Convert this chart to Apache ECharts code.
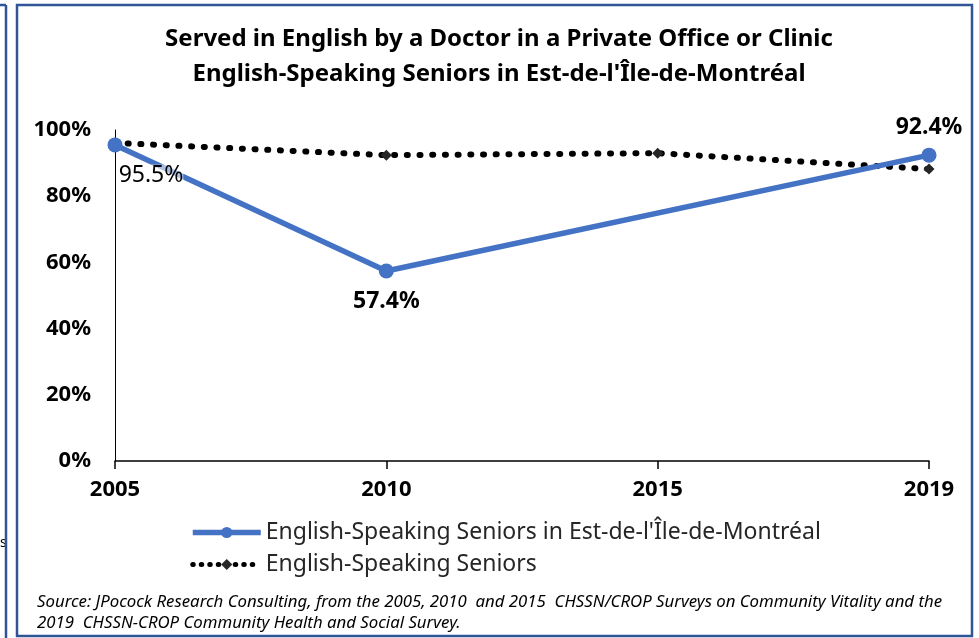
<!DOCTYPE html>
<html>
<head>
<meta charset="utf-8">
<script src="https://cdn.jsdelivr.net/npm/echarts@6/dist/echarts.min.js"></script>
<style>
html,body{margin:0;padding:0;background:#fff;}
#c{width:979px;height:638px;}
</style>
</head>
<body>
<div id="c"></div>
<script>
const years = ['2005', '2010', '2015', '2019'];
const estMontreal = [95.5, 57.4, null, 92.4];
const allSeniors = [96.1, 92.4, 93.0, 88.2];
const yTicks = [0, 20, 40, 60, 80, 100];
const titleLines = ['Served in English by a Doctor in a Private Office or Clinic', "English-Speaking Seniors in Est-de-l'Île-de-Montréal"];
const seriesNames = ["English-Speaking Seniors in Est-de-l'Île-de-Montréal", 'English-Speaking Seniors'];
const sourceLines = ['Source: JPocock Research Consulting, from the 2005, 2010  and 2015  CHSSN/CROP Surveys on Community Vitality and the', '2019  CHSSN-CROP Community Health and Social Survey.'];

const FONT = '"Noto Sans", "Open Sans", sans-serif';
const chart = echarts.init(document.getElementById('c'));

const labelCfg = [
  {position: 'bottom', offset: [36, 7], fontWeight: 'normal', backgroundColor: 'rgba(255,255,255,0.55)'},
  {position: 'bottom', offset: [0, 6], fontWeight: 'bold'},
  null,
  {position: 'top', offset: [0, -4], fontWeight: 'bold'}
];

chart.setOption({
  backgroundColor: '#fff',
  animation: false,
  title: {
    text: titleLines.join('\n'),
    left: 494, textAlign: 'center', top: 17,
    textStyle: {fontFamily: FONT, fontSize: 24, fontWeight: 'bold', color: '#000', lineHeight: 35}
  },
  grid: {left: 115, right: 50, top: 130, bottom: 177, containLabel: false},
  xAxis: {
    type: 'category', data: years, boundaryGap: false,
    axisLine: {lineStyle: {color: '#000', width: 1.5}},
    axisTick: {show: true, alignWithLabel: true, length: 8, lineStyle: {color: '#000', width: 1.5}},
    axisLabel: {fontFamily: FONT, fontSize: 22, fontWeight: 'bold', color: '#000', margin: 18},
    splitLine: {show: false}
  },
  yAxis: {
    type: 'value', min: 0, max: 100, interval: 20,
    axisLine: {show: true, lineStyle: {color: '#000', width: 1}},
    axisTick: {show: false},
    axisLabel: {fontFamily: FONT, fontSize: 22, fontWeight: 'bold', color: '#000', margin: 24,
      formatter: v => yTicks.includes(v) ? v + '%' : ''},
    splitLine: {show: false}
  },
  legend: {
    orient: 'vertical', left: 185, top: 516, itemGap: 9,
    itemWidth: 68, itemHeight: 14,
    textStyle: {fontFamily: FONT, fontSize: 23, color: '#262626'},
    data: [
      {name: seriesNames[0], lineStyle: {width: 5.5, color: '#4472C4'}},
      {name: seriesNames[1], lineStyle: {width: 5, color: '#000', type: [0.5, 8], cap: 'round'}}
    ]
  },
  series: [
    {
      name: seriesNames[1], type: 'line', data: allSeniors, z: 2,
      symbol: 'diamond', symbolSize: 11,
      itemStyle: {color: '#262626'},
      lineStyle: {color: '#000', width: 6, type: [1, 11.7], cap: 'round'}
    },
    {
      name: seriesNames[0], type: 'line', connectNulls: true, z: 3,
      data: estMontreal.map((v, i) => {
        if (v === null) return null;
        const c = labelCfg[i];
        return {value: v, label: Object.assign({show: true, formatter: p => p.value.toFixed(1) + '%',
          fontFamily: FONT, fontSize: 23, color: '#000', distance: 5}, c)};
      }),
      symbol: 'circle', symbolSize: 15,
      itemStyle: {color: '#4472C4'},
      lineStyle: {color: '#4472C4', width: 5.5}
    }
  ],
  graphic: [
    {type: 'rect', shape: {x: 17, y: 5, width: 955, height: 631}, style: {fill: 'none', stroke: '#2F5597', lineWidth: 2.5}, z: 100},
    {type: 'line', shape: {x1: 6, y1: 5, x2: 6, y2: 638}, style: {stroke: '#2F5597', lineWidth: 2.5}, z: 100},
    {type: 'line', shape: {x1: 0, y1: 5, x2: 6, y2: 5}, style: {stroke: '#2F5597', lineWidth: 2.5}, z: 100},
    {type: 'text', left: 0, top: 536, style: {text: 's', fontFamily: FONT, fontSize: 14, fill: '#000'}},
    {type: 'text', left: 37, top: 594, style: {text: sourceLines[0], fontFamily: FONT, fontSize: 16.8, fontStyle: 'italic', fill: '#000'}},
    {type: 'text', left: 37, top: 615, style: {text: sourceLines[1], fontFamily: FONT, fontSize: 16.8, fontStyle: 'italic', fill: '#000'}}
  ]
});
</script>
</body>
</html>
